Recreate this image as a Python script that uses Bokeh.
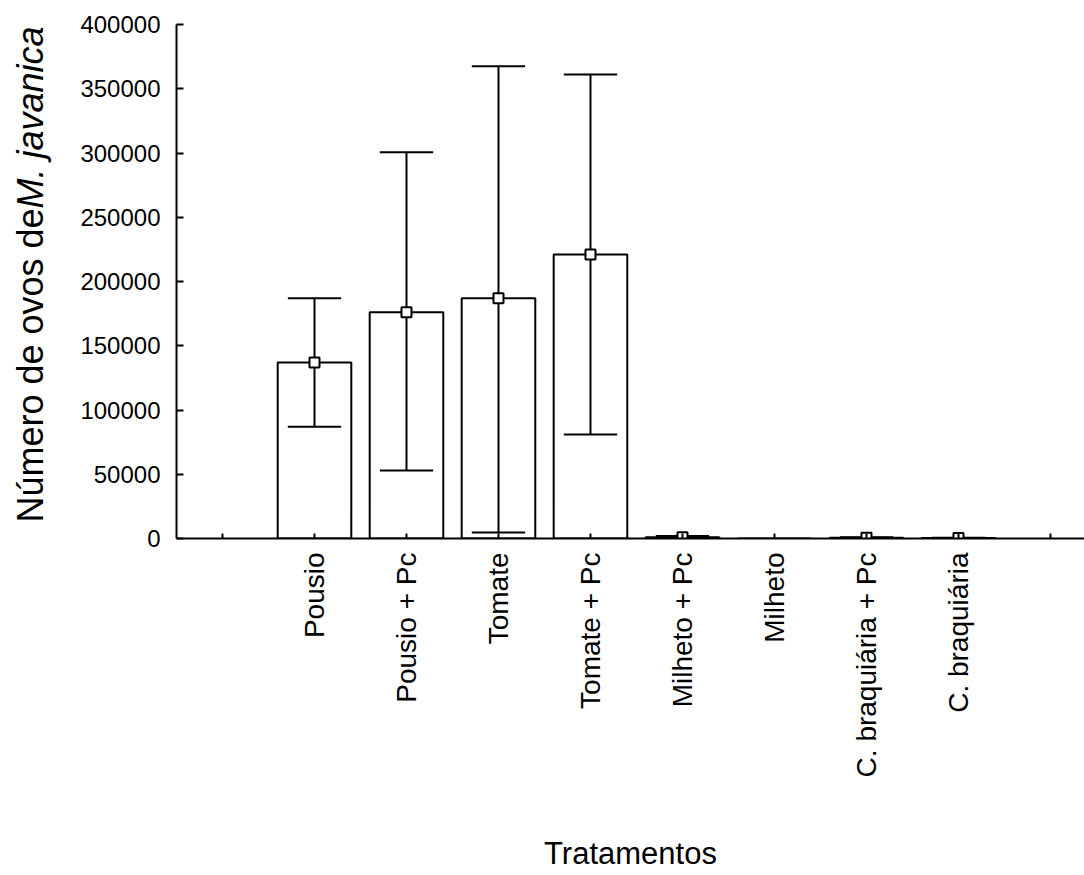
import math
from bokeh.plotting import figure
from bokeh.layouts import row
from bokeh.models import FixedTicker, Range1d, ColumnDataSource
from bokeh.core.properties import value
from bokeh.embed import file_html
from bokeh.resources import INLINE

# ---- data ----
treatments = ["Pousio", "Pousio + Pc", "Tomate", "Tomate + Pc",
              "Milheto + Pc", "Milheto", "C. braquiária + Pc", "C. braquiária"]
means = [137000, 176000, 187000, 221000, 1000, float("nan"), 500, 300]
lower = [87000, 53000, 4700, 81000, 0, float("nan"), 0, 0]
upper = [187000, 300500, 367500, 361000, 2000, float("nan"), 900, 600]
y_ticks = [0, 50000, 100000, 150000, 200000, 250000, 300000, 350000, 400000]
y_title_plain = "Número de ovos de"
y_title_italic = "M. javanica"
x_title = "Tratamentos"

FONT = "Liberation Sans"
H = 875
LEFT_W = 60
Y_TITLE_SIZE = 36

y_range = Range1d(0, 400000)

# ---- main chart ----
pos = list(range(1, len(treatments) + 1))
bar_w = 0.8
cap_half = 0.29
src = ColumnDataSource(dict(
    x=pos, top=[0 if math.isnan(m) else m for m in means], mean=means,
    lo=lower, hi=upper,
    cl=[p - cap_half for p in pos], cr=[p + cap_half for p in pos],
))

p = figure(width=1084 - LEFT_W, height=H, output_backend="svg", toolbar_location=None,
           x_range=Range1d(-0.5, 9.37), y_range=y_range,
           min_border_left=116, min_border_right=0, min_border_top=24,
           min_border_bottom=337)
p.outline_line_color = None
p.xgrid.visible = False
p.ygrid.visible = False

p.vbar(x="x", top="top", bottom=0, width=bar_w, source=src,
       fill_color="white", line_color="black", line_width=2)
p.segment(x0="x", y0="lo", x1="x", y1="hi", source=src, line_color="black", line_width=2)
p.segment(x0="cl", y0="hi", x1="cr", y1="hi", source=src, line_color="black", line_width=2)
p.segment(x0="cl", y0="lo", x1="cr", y1="lo", source=src, line_color="black", line_width=2)
p.scatter(x="x", y="mean", source=src, marker="square", size=10,
          fill_color="white", line_color="black", line_width=2)

xa = p.xaxis[0]
tick_pos = [0] + pos + [len(pos) + 1]
xa.ticker = FixedTicker(ticks=tick_pos)
overrides = {0: "", len(pos) + 1: ""}
for i, name in zip(pos, treatments):
    overrides[i] = name
xa.major_label_overrides = overrides
xa.major_label_orientation = math.pi / 2
xa.major_label_text_font = FONT
xa.major_label_text_font_size = "28px"
xa.major_label_text_color = "black"
xa.major_label_standoff = 14
xa.major_tick_in = 5
xa.major_tick_out = 0
xa.minor_tick_line_color = None
xa.axis_line_width = 2
xa.major_tick_line_width = 2
xa.axis_label = x_title
xa.axis_label_text_font = FONT
xa.axis_label_text_font_size = "31px"
xa.axis_label_text_font_style = "normal"
xa.axis_label_text_color = "black"
xa.axis_label_standoff = 56

ya = p.yaxis[0]
ya.ticker = FixedTicker(ticks=y_ticks)
ya.major_label_text_font = FONT
ya.major_label_text_font_size = "24px"
ya.major_label_text_color = "black"
ya.major_label_standoff = 16
ya.major_tick_in = 7
ya.major_tick_out = 0
ya.minor_tick_line_color = None
ya.axis_line_width = 2
ya.major_tick_line_width = 2
ya.formatter.use_scientific = False

# ---- left strip holding the y-axis title (mixed styles); frame aligned with main ----
t = figure(width=LEFT_W, height=H, output_backend="svg", toolbar_location=None,
           x_range=Range1d(0, LEFT_W), y_range=y_range,
           x_axis_location=None, y_axis_location=None,
           min_border=0, min_border_left=0, min_border_right=0,
           min_border_top=24, min_border_bottom=337)
t.grid.visible = False
t.outline_line_color = None
t.text(x=[30], y=[12400], text=[y_title_plain], angle=math.pi / 2,
       text_font=value(FONT), text_font_size=f"{Y_TITLE_SIZE}px", text_align="left",
       text_baseline="middle", text_color="black")
t.text(x=[30], y=[256800], text=[y_title_italic], angle=math.pi / 2,
       text_font=value(FONT), text_font_size=f"{Y_TITLE_SIZE}px", text_font_style="italic",
       text_align="left", text_baseline="middle", text_color="black")

layout = row(t, p, spacing=0)
open("out.html", "w").write(file_html(layout, INLINE))
